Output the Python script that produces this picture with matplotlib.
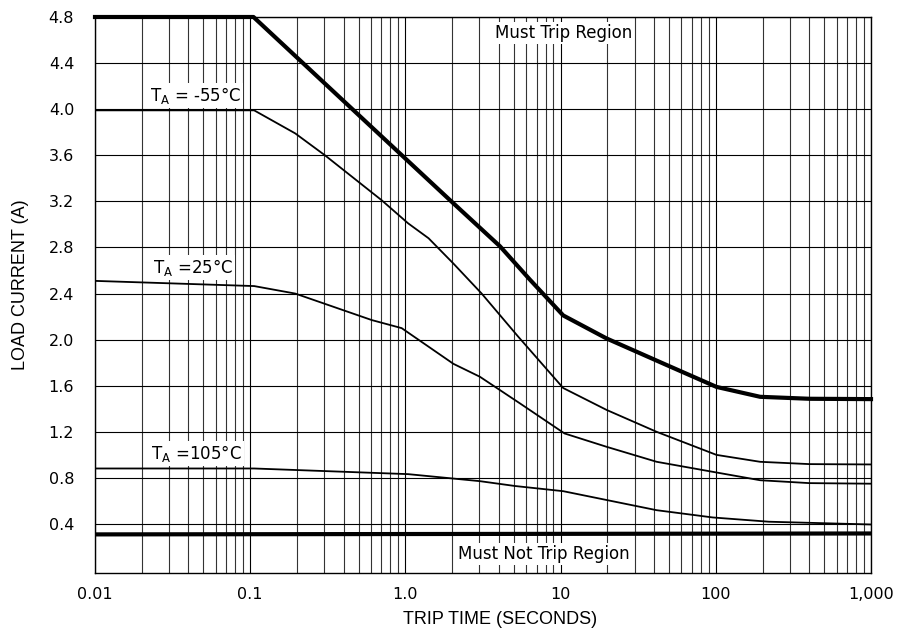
import matplotlib
matplotlib.use('Agg')
import matplotlib.pyplot as plt
from matplotlib.ticker import FixedLocator, LogLocator, NullFormatter

plt.rcParams['font.family'] = ['DejaVu Sans']
plt.rcParams['mathtext.fontset'] = 'dejavusans'

# ---------------- data ----------------
x_ticks = [0.01, 0.1, 1, 10, 100, 1000]
x_tick_labels = ['0.01', '0.1', '1.0', '10', '100', '1,000']
y_ticks = [0.4, 0.8, 1.2, 1.6, 2.0, 2.4, 2.8, 3.2, 3.6, 4.0, 4.4, 4.8]
y_tick_labels = ['0.4', '0.8', '1.2', '1.6', '2.0', '2.4', '2.8', '3.2', '3.6', '4.0', '4.4', '4.8']

must_trip_t = [0.01, 0.105, 1.94, 4.07, 6.35, 10.4, 19.8, 48.2, 101, 193, 400, 1000]
must_trip_i = [4.80, 4.80, 3.21, 2.81, 2.52, 2.21, 2.01, 1.78, 1.59, 1.504, 1.487, 1.484]

m55_t = [0.01, 0.106, 0.195, 0.303, 0.703, 1.04, 1.41, 2.04, 3.1, 5.3, 10.4, 19.8, 41.6, 101, 193, 400, 1000]
m55_i = [3.99, 3.99, 3.79, 3.60, 3.21, 3.01, 2.88, 2.66, 2.40, 2.03, 1.58, 1.39, 1.20, 1.00, 0.94, 0.92, 0.917]

p25_t = [0.01, 0.106, 0.195, 0.607, 0.946, 2.04, 3.02, 5.47, 10.6, 19.8, 41.6, 95.6, 193, 400, 1000]
p25_i = [2.51, 2.465, 2.40, 2.17, 2.10, 1.79, 1.678, 1.447, 1.186, 1.07, 0.94, 0.853, 0.78, 0.755, 0.75]

p105_t = [0.01, 0.106, 1.04, 3.02, 5.08, 10.4, 41.6, 95.6, 220, 1000]
p105_i = [0.882, 0.882, 0.833, 0.772, 0.73, 0.685, 0.52, 0.457, 0.42, 0.396]

must_not_trip_t = [0.01, 1000]
must_not_trip_i = [0.31, 0.318]

# ---------------- figure ----------------
fig = plt.figure(figsize=(9.03, 6.35), dpi=100)
ax = fig.add_axes([95 / 903, 1 - 573 / 635, 776 / 903, 556 / 635])
ax.set_xscale('log')
ax.set_xlim(0.01, 1000)
ax.set_ylim(-0.025, 4.8)

ax.xaxis.set_major_locator(FixedLocator(x_ticks))
ax.set_xticklabels(x_tick_labels)
ax.xaxis.set_minor_locator(LogLocator(base=10, subs=range(2, 10), numticks=20))
ax.xaxis.set_minor_formatter(NullFormatter())
ax.set_yticks(y_ticks)
ax.set_yticklabels(y_tick_labels)

ax.tick_params(which='both', length=0)
ax.tick_params(axis='x', pad=10, labelsize=11.5)
ax.tick_params(axis='y', pad=15, labelsize=11.5)

ax.grid(True, which='major', color='black', linewidth=0.8)
ax.grid(True, which='minor', axis='x', color='#333333', linewidth=0.8)
ax.set_axisbelow(True)
for s in ax.spines.values():
    s.set_color('black')
    s.set_linewidth(1.0)

ax.plot(must_trip_t, must_trip_i, color='black', lw=3.0, clip_on=False, zorder=4,
        solid_joinstyle='round')
ax.plot(must_not_trip_t, must_not_trip_i, color='black', lw=3.0, zorder=4)
ax.plot(m55_t, m55_i, color='black', lw=1.3, zorder=4)
ax.plot(p25_t, p25_i, color='black', lw=1.3, zorder=4)
ax.plot(p105_t, p105_i, color='black', lw=1.3, zorder=4)

box = dict(facecolor='white', edgecolor='none', pad=1.5)
ax.text(10.4, 4.66, 'Must Trip Region', ha='center', va='center', fontsize=12, bbox=box, zorder=3)
ax.text(7.8, 0.139, 'Must Not Trip Region', ha='center', va='center', fontsize=12, bbox=box, zorder=3)
ax.text(0.0226, 4.12, r'T$_{\mathrm{A}}$ = -55°C', ha='left', va='center', fontsize=12, bbox=box, zorder=3)
ax.text(0.0236, 2.63, r'T$_{\mathrm{A}}$ =25°C', ha='left', va='center', fontsize=12, bbox=box, zorder=3)
ax.text(0.0229, 1.015, r'T$_{\mathrm{A}}$ =105°C', ha='left', va='center', fontsize=12, bbox=box, zorder=3)

ax.set_xlabel('TRIP TIME (SECONDS)', fontsize=13, family=['Liberation Sans'])
ax.xaxis.set_label_coords((500 - 95) / 776, (573 - 611) / 556)
ax.set_ylabel('LOAD CURRENT (A)', fontsize=13, family=['Liberation Sans'])
ax.yaxis.set_label_coords((29 - 95) / 776, (573 - 285) / 556)

fig.savefig('out.png', dpi=100)
